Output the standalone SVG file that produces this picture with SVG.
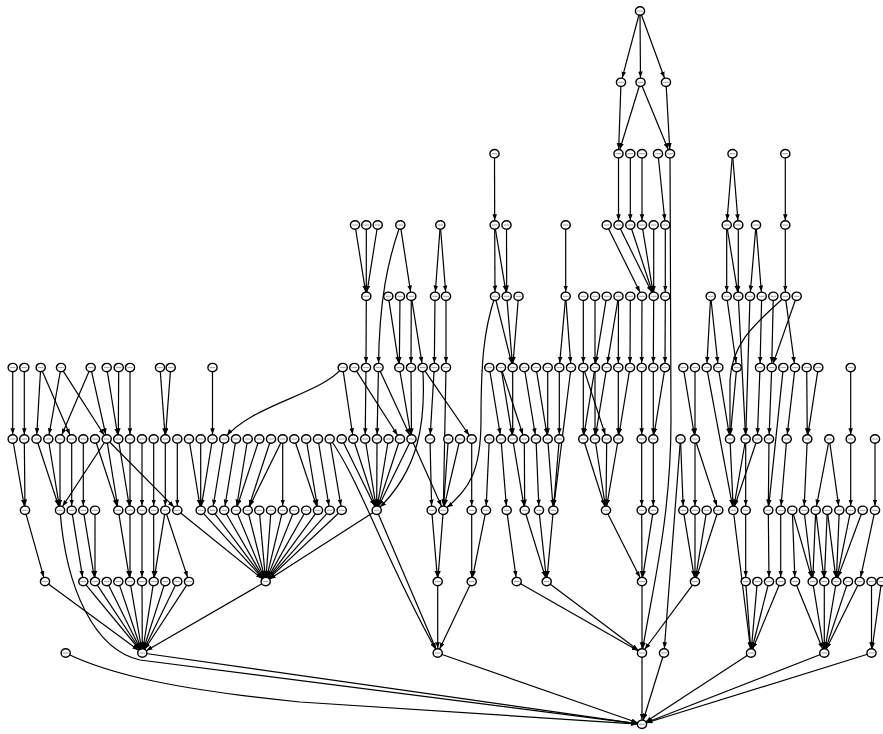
<svg xmlns="http://www.w3.org/2000/svg" xmlns:xlink="http://www.w3.org/1999/xlink" width="883" height="734" viewBox="0 0 883 734">
<style>
.e line,.e path{stroke:#000;stroke-width:1.2;fill:none;marker-end:url(#ah)}
.nd ellipse{fill:#fff;stroke:#000;stroke-width:1.4}
.nd line{stroke:#a0a0a0;stroke-width:1}
</style>
<defs>
<marker id="ah" markerUnits="userSpaceOnUse" markerWidth="12" markerHeight="6" refX="10.8" refY="2.3" orient="auto"><path d="M0,0 L6,2.3 L0,4.6 z" fill="#000"/></marker>
<g id="nd" class="nd"><ellipse rx="4.6" ry="4.2"/><line x1="-2.8" x2="2.8" y1="0" y2="0"/></g>
</defs>
<rect width="883" height="734" fill="#fff"/>
<g id="edges" class="e">
<line x1="640" y1="11" x2="621" y2="82.3"/><line x1="640" y1="11" x2="640.5" y2="82.3"/><line x1="640" y1="11" x2="666" y2="82.3"/>
<line x1="621" y1="82.3" x2="618.5" y2="153.7"/><line x1="640.5" y1="82.3" x2="618.5" y2="153.7"/><line x1="640.5" y1="82.3" x2="670" y2="153.7"/><line x1="666" y1="82.3" x2="670" y2="153.7"/>
<line x1="494.5" y1="153.7" x2="494.7" y2="225"/><line x1="618.5" y1="153.7" x2="618.5" y2="225"/><line x1="630.3" y1="153.7" x2="630.3" y2="225"/><line x1="642" y1="153.7" x2="642" y2="225"/><line x1="658" y1="153.7" x2="665.3" y2="225"/><line x1="732.5" y1="153.7" x2="726.7" y2="225"/><line x1="732.5" y1="153.7" x2="738.3" y2="225"/><line x1="785.3" y1="153.7" x2="785.3" y2="225"/>
<line x1="355" y1="225" x2="366.3" y2="296.3"/><line x1="366.3" y1="225" x2="366.3" y2="296.3"/><line x1="377.7" y1="225" x2="366.3" y2="296.3"/><line x1="400.3" y1="225" x2="411.3" y2="296.3"/><line x1="440.3" y1="225" x2="435" y2="296.3"/><line x1="440.3" y1="225" x2="446" y2="296.3"/><line x1="494.7" y1="225" x2="495" y2="296.3"/><line x1="494.7" y1="225" x2="506.7" y2="296.3"/><line x1="506.5" y1="225" x2="506.7" y2="296.3"/><line x1="565.7" y1="225" x2="565.7" y2="296.3"/><line x1="606.7" y1="225" x2="642" y2="296.3"/><line x1="618.5" y1="225" x2="653.7" y2="296.3"/><line x1="630.3" y1="225" x2="653.7" y2="296.3"/><line x1="642" y1="225" x2="653.7" y2="296.3"/><line x1="653.7" y1="225" x2="653.7" y2="296.3"/><line x1="665.3" y1="225" x2="665.3" y2="296.3"/><line x1="726.7" y1="225" x2="726.7" y2="296.3"/><line x1="726.7" y1="225" x2="738.3" y2="296.3"/><line x1="738.3" y1="225" x2="738.3" y2="296.3"/><line x1="756" y1="225" x2="750" y2="296.3"/><line x1="756" y1="225" x2="761.7" y2="296.3"/><line x1="785.3" y1="225" x2="785.3" y2="296.3"/>
<line x1="366.3" y1="296.3" x2="366" y2="367.6"/><line x1="388.3" y1="296.3" x2="399.3" y2="367.6"/><line x1="400" y1="296.3" x2="399.3" y2="367.6"/><line x1="411.3" y1="296.3" x2="411" y2="367.6"/><line x1="411.3" y1="296.3" x2="422.7" y2="367.6"/><line x1="435" y1="296.3" x2="434.3" y2="367.6"/><line x1="446" y1="296.3" x2="446" y2="367.6"/><line x1="495" y1="296.3" x2="512.7" y2="367.6"/><line x1="506.7" y1="296.3" x2="512.7" y2="367.6"/><line x1="518.5" y1="296.3" x2="512.7" y2="367.6"/><line x1="565.7" y1="296.3" x2="559.3" y2="367.6"/><line x1="565.7" y1="296.3" x2="571" y2="367.6"/><line x1="583.3" y1="296.3" x2="583.3" y2="367.6"/><line x1="595" y1="296.3" x2="595" y2="367.6"/><line x1="606.7" y1="296.3" x2="595" y2="367.6"/><line x1="618.5" y1="296.3" x2="606.7" y2="367.6"/><line x1="618.5" y1="296.3" x2="618.3" y2="367.6"/><line x1="630.3" y1="296.3" x2="630" y2="367.6"/><line x1="642" y1="296.3" x2="641.7" y2="367.6"/><line x1="653.7" y1="296.3" x2="653.3" y2="367.6"/><line x1="665.3" y1="296.3" x2="665" y2="367.6"/><line x1="710.7" y1="296.3" x2="706.7" y2="367.6"/><line x1="710.7" y1="296.3" x2="718.3" y2="367.6"/><line x1="726.7" y1="296.3" x2="736.7" y2="367.6"/><line x1="761.7" y1="296.3" x2="760" y2="367.6"/><line x1="773.3" y1="296.3" x2="771.7" y2="367.6"/><line x1="785.3" y1="296.3" x2="795" y2="367.6"/><line x1="796.7" y1="296.3" x2="771.7" y2="367.6"/>
<line x1="12.7" y1="367.6" x2="12.7" y2="439"/><line x1="24.3" y1="367.6" x2="24.3" y2="439"/><line x1="40.7" y1="367.6" x2="36.5" y2="439"/><line x1="40.7" y1="367.6" x2="71.7" y2="439"/><line x1="61" y1="367.6" x2="48.3" y2="439"/><line x1="61" y1="367.6" x2="106.7" y2="439"/><line x1="90.7" y1="367.6" x2="60" y2="439"/><line x1="90.7" y1="367.6" x2="106.7" y2="439"/><line x1="106.7" y1="367.6" x2="118.3" y2="439"/><line x1="118.7" y1="367.6" x2="118.3" y2="439"/><line x1="130" y1="367.6" x2="130" y2="439"/><line x1="160" y1="367.6" x2="165.3" y2="439"/><line x1="170.7" y1="367.6" x2="165.3" y2="439"/><line x1="212.5" y1="367.6" x2="212.5" y2="439"/><line x1="342.7" y1="367.6" x2="353.3" y2="439"/><line x1="354.3" y1="367.6" x2="400" y2="439"/><line x1="366" y1="367.6" x2="365.2" y2="439"/><line x1="378.5" y1="367.6" x2="377" y2="439"/><line x1="378.5" y1="367.6" x2="411.5" y2="439"/><line x1="399.3" y1="367.6" x2="411.5" y2="439"/><line x1="411" y1="367.6" x2="411.5" y2="439"/><line x1="422.7" y1="367.6" x2="471.7" y2="439"/><line x1="434.3" y1="367.6" x2="430" y2="439"/><line x1="489.3" y1="367.6" x2="501" y2="439"/><line x1="501" y1="367.6" x2="512.7" y2="439"/><line x1="501" y1="367.6" x2="524.3" y2="439"/><line x1="512.7" y1="367.6" x2="512.7" y2="439"/><line x1="524.3" y1="367.6" x2="536" y2="439"/><line x1="536" y1="367.6" x2="547.7" y2="439"/><line x1="547.7" y1="367.6" x2="547.7" y2="439"/><line x1="559.3" y1="367.6" x2="559.3" y2="439"/><line x1="583.3" y1="367.6" x2="583.3" y2="439"/><line x1="583.3" y1="367.6" x2="606.7" y2="439"/><line x1="595" y1="367.6" x2="583.3" y2="439"/><line x1="595" y1="367.6" x2="595" y2="439"/><line x1="606.7" y1="367.6" x2="595" y2="439"/><line x1="618.3" y1="367.6" x2="618.3" y2="439"/><line x1="630" y1="367.6" x2="618.3" y2="439"/><line x1="641.7" y1="367.6" x2="641.7" y2="439"/><line x1="653.3" y1="367.6" x2="653.3" y2="439"/><line x1="665" y1="367.6" x2="653.3" y2="439"/><line x1="683.3" y1="367.6" x2="695" y2="439"/><line x1="695" y1="367.6" x2="695" y2="439"/><line x1="718.3" y1="367.6" x2="730" y2="439"/><line x1="736.7" y1="367.6" x2="730" y2="439"/><line x1="760" y1="367.6" x2="757.3" y2="439"/><line x1="771.7" y1="367.6" x2="769" y2="439"/><line x1="795" y1="367.6" x2="786.7" y2="439"/><line x1="806.7" y1="367.6" x2="807.3" y2="439"/><line x1="818.3" y1="367.6" x2="807.3" y2="439"/><line x1="850.7" y1="367.6" x2="850.7" y2="439"/>
<line x1="12.7" y1="439" x2="25" y2="510.3"/><line x1="24.3" y1="439" x2="25" y2="510.3"/><line x1="36.5" y1="439" x2="60" y2="510.3"/><line x1="48.3" y1="439" x2="60" y2="510.3"/><line x1="60" y1="439" x2="60" y2="510.3"/><line x1="106.7" y1="439" x2="60" y2="510.3"/><line x1="71.7" y1="439" x2="71.7" y2="510.3"/><line x1="83.3" y1="439" x2="83.3" y2="510.3"/><line x1="95" y1="439" x2="118.3" y2="510.3"/><line x1="106.7" y1="439" x2="118.3" y2="510.3"/><line x1="106.7" y1="439" x2="177.3" y2="510.3"/><line x1="118.3" y1="439" x2="130" y2="510.3"/><line x1="130" y1="439" x2="130" y2="510.3"/><line x1="142" y1="439" x2="142" y2="510.3"/><line x1="153.7" y1="439" x2="153.7" y2="510.3"/><line x1="165.3" y1="439" x2="165.3" y2="510.3"/><line x1="177.3" y1="439" x2="177.3" y2="510.3"/><line x1="189" y1="439" x2="200.7" y2="510.3"/><line x1="200.7" y1="439" x2="200.7" y2="510.3"/><line x1="212.5" y1="439" x2="200.7" y2="510.3"/><line x1="224.2" y1="439" x2="212.5" y2="510.3"/><line x1="236" y1="439" x2="224.2" y2="510.3"/><line x1="247.7" y1="439" x2="236" y2="510.3"/><line x1="259.3" y1="439" x2="236" y2="510.3"/><line x1="271" y1="439" x2="247.7" y2="510.3"/><line x1="282.7" y1="439" x2="247.7" y2="510.3"/><line x1="282.7" y1="439" x2="282.7" y2="510.3"/><line x1="294.3" y1="439" x2="318" y2="510.3"/><line x1="306.2" y1="439" x2="318" y2="510.3"/><line x1="318" y1="439" x2="329.7" y2="510.3"/><line x1="329.7" y1="439" x2="341.7" y2="510.3"/><line x1="341.7" y1="439" x2="376.7" y2="510.3"/><line x1="353.3" y1="439" x2="376.7" y2="510.3"/><line x1="365.2" y1="439" x2="376.7" y2="510.3"/><line x1="377" y1="439" x2="376.7" y2="510.3"/><line x1="388.5" y1="439" x2="376.7" y2="510.3"/><line x1="400" y1="439" x2="376.7" y2="510.3"/><line x1="411.5" y1="439" x2="376.7" y2="510.3"/><line x1="411.5" y1="439" x2="443.3" y2="510.3"/><line x1="430" y1="439" x2="431.7" y2="510.3"/><line x1="448.3" y1="439" x2="443.3" y2="510.3"/><line x1="460" y1="439" x2="443.3" y2="510.3"/><line x1="471.7" y1="439" x2="471.7" y2="510.3"/><line x1="489.3" y1="439" x2="486" y2="510.3"/><line x1="501" y1="439" x2="506.7" y2="510.3"/><line x1="512.7" y1="439" x2="524.7" y2="510.3"/><line x1="524.3" y1="439" x2="524.7" y2="510.3"/><line x1="536" y1="439" x2="539" y2="510.3"/><line x1="547.7" y1="439" x2="553.3" y2="510.3"/><line x1="559.3" y1="439" x2="553.3" y2="510.3"/><line x1="583.3" y1="439" x2="606" y2="510.3"/><line x1="595" y1="439" x2="606" y2="510.3"/><line x1="606.7" y1="439" x2="606" y2="510.3"/><line x1="618.3" y1="439" x2="606" y2="510.3"/><line x1="641.7" y1="439" x2="641.7" y2="510.3"/><line x1="653.3" y1="439" x2="653.3" y2="510.3"/><line x1="680.5" y1="439" x2="683.3" y2="510.3"/><line x1="695" y1="439" x2="695" y2="510.3"/><line x1="695" y1="439" x2="718.3" y2="510.3"/><line x1="730" y1="439" x2="733.3" y2="510.3"/><line x1="745.7" y1="439" x2="733.3" y2="510.3"/><line x1="757.3" y1="439" x2="733.3" y2="510.3"/><line x1="745.7" y1="439" x2="745.7" y2="510.3"/><line x1="769" y1="439" x2="768.3" y2="510.3"/><line x1="786.7" y1="439" x2="780.7" y2="510.3"/><line x1="807.3" y1="439" x2="804" y2="510.3"/><line x1="829.3" y1="439" x2="815.7" y2="510.3"/><line x1="829.3" y1="439" x2="839.3" y2="510.3"/><line x1="850.7" y1="439" x2="850.7" y2="510.3"/><line x1="875" y1="439" x2="875" y2="510.3"/>
<line x1="25" y1="510.3" x2="45" y2="581.6"/><line x1="71.7" y1="510.3" x2="83.3" y2="581.6"/><line x1="83.3" y1="510.3" x2="95" y2="581.6"/><line x1="95" y1="510.3" x2="95" y2="581.6"/><line x1="118.3" y1="510.3" x2="130" y2="581.6"/><line x1="130" y1="510.3" x2="130" y2="581.6"/><line x1="142" y1="510.3" x2="142" y2="581.6"/><line x1="153.7" y1="510.3" x2="153.7" y2="581.6"/><line x1="165.3" y1="510.3" x2="153.7" y2="581.6"/><line x1="165.3" y1="510.3" x2="189" y2="581.6"/><line x1="177.3" y1="510.3" x2="265.7" y2="581.6"/><line x1="200.7" y1="510.3" x2="265.7" y2="581.6"/><line x1="212.5" y1="510.3" x2="265.7" y2="581.6"/><line x1="224.2" y1="510.3" x2="265.7" y2="581.6"/><line x1="236" y1="510.3" x2="265.7" y2="581.6"/><line x1="247.7" y1="510.3" x2="265.7" y2="581.6"/><line x1="259.3" y1="510.3" x2="265.7" y2="581.6"/><line x1="271" y1="510.3" x2="265.7" y2="581.6"/><line x1="282.7" y1="510.3" x2="265.7" y2="581.6"/><line x1="294.3" y1="510.3" x2="265.7" y2="581.6"/><line x1="306.2" y1="510.3" x2="265.7" y2="581.6"/><line x1="318" y1="510.3" x2="265.7" y2="581.6"/><line x1="329.7" y1="510.3" x2="265.7" y2="581.6"/><line x1="341.7" y1="510.3" x2="265.7" y2="581.6"/><line x1="376.7" y1="510.3" x2="265.7" y2="581.6"/><line x1="431.7" y1="510.3" x2="437.7" y2="581.6"/><line x1="443.3" y1="510.3" x2="437.7" y2="581.6"/><line x1="471.7" y1="510.3" x2="471.7" y2="581.6"/><line x1="486" y1="510.3" x2="471.7" y2="581.6"/><line x1="506.7" y1="510.3" x2="516.7" y2="581.6"/><line x1="524.7" y1="510.3" x2="546.7" y2="581.6"/><line x1="539" y1="510.3" x2="546.7" y2="581.6"/><line x1="553.3" y1="510.3" x2="546.7" y2="581.6"/><line x1="606" y1="510.3" x2="642" y2="581.6"/><line x1="641.7" y1="510.3" x2="642" y2="581.6"/><line x1="653.3" y1="510.3" x2="642" y2="581.6"/><line x1="683.3" y1="510.3" x2="695" y2="581.6"/><line x1="695" y1="510.3" x2="695" y2="581.6"/><line x1="706.7" y1="510.3" x2="695" y2="581.6"/><line x1="718.3" y1="510.3" x2="695" y2="581.6"/><line x1="745.7" y1="510.3" x2="745.7" y2="581.6"/><line x1="768.3" y1="510.3" x2="769" y2="581.6"/><line x1="780.7" y1="510.3" x2="780.7" y2="581.6"/><line x1="792.3" y1="510.3" x2="795" y2="581.6"/><line x1="792.3" y1="510.3" x2="812.7" y2="581.6"/><line x1="804" y1="510.3" x2="812.7" y2="581.6"/><line x1="815.7" y1="510.3" x2="812.7" y2="581.6"/><line x1="815.7" y1="510.3" x2="824.3" y2="581.6"/><line x1="827.3" y1="510.3" x2="824.3" y2="581.6"/><line x1="827.3" y1="510.3" x2="836.3" y2="581.6"/><line x1="839.3" y1="510.3" x2="836.3" y2="581.6"/><line x1="850.7" y1="510.3" x2="836.3" y2="581.6"/><line x1="862.7" y1="510.3" x2="836.3" y2="581.6"/><line x1="875" y1="510.3" x2="859.7" y2="581.6"/>
<line x1="45" y1="581.6" x2="142.3" y2="653"/><line x1="83.3" y1="581.6" x2="142.3" y2="653"/><line x1="95" y1="581.6" x2="142.3" y2="653"/><line x1="106.7" y1="581.6" x2="142.3" y2="653"/><line x1="118.3" y1="581.6" x2="142.3" y2="653"/><line x1="130" y1="581.6" x2="142.3" y2="653"/><line x1="142" y1="581.6" x2="142.3" y2="653"/><line x1="153.7" y1="581.6" x2="142.3" y2="653"/><line x1="165.3" y1="581.6" x2="142.3" y2="653"/><line x1="177.3" y1="581.6" x2="142.3" y2="653"/><line x1="189" y1="581.6" x2="142.3" y2="653"/><line x1="265.7" y1="581.6" x2="142.3" y2="653"/><line x1="437.7" y1="581.6" x2="437.7" y2="653"/><line x1="471.7" y1="581.6" x2="437.7" y2="653"/><line x1="516.7" y1="581.6" x2="642" y2="653"/><line x1="546.7" y1="581.6" x2="642" y2="653"/><line x1="642" y1="581.6" x2="642" y2="653"/><line x1="695" y1="581.6" x2="642" y2="653"/><line x1="745.7" y1="581.6" x2="751" y2="653"/><line x1="757.3" y1="581.6" x2="751" y2="653"/><line x1="769" y1="581.6" x2="751" y2="653"/><line x1="780.7" y1="581.6" x2="751" y2="653"/><line x1="795" y1="581.6" x2="824.3" y2="653"/><line x1="812.7" y1="581.6" x2="824.3" y2="653"/><line x1="824.3" y1="581.6" x2="824.3" y2="653"/><line x1="836.3" y1="581.6" x2="824.3" y2="653"/><line x1="848" y1="581.6" x2="824.3" y2="653"/><line x1="859.7" y1="581.6" x2="824.3" y2="653"/><line x1="871.5" y1="581.6" x2="871.5" y2="653"/><line x1="881.5" y1="581.6" x2="871.5" y2="653"/>
<line x1="142.3" y1="653" x2="642" y2="724.3"/><line x1="437.7" y1="653" x2="642" y2="724.3"/><line x1="642" y1="653" x2="642" y2="724.3"/><line x1="664" y1="653" x2="642" y2="724.3"/><line x1="751" y1="653" x2="642" y2="724.3"/><line x1="824.3" y1="653" x2="642" y2="724.3"/><line x1="871.5" y1="653" x2="642" y2="724.3"/>
<path d="M670,153.7 L671,420 C671,520 652,590 642,653"/>
<path d="M400.3,225 C388,260 379,300 378.5,367.6"/>
<path d="M495,296.3 C484,330 481,360 481,420 C481,470 470,490 443.3,510.3"/>
<line x1="738.3" y1="296.3" x2="745.7" y2="439"/><line x1="750" y1="296.3" x2="745.7" y2="439"/>
<path d="M785.3,296.3 C760,320 732,340 730,380 L730,439"/>
<path d="M342.7,367.6 C320,395 250,405 224.2,439"/>
<path d="M422.7,367.6 C426,420 420,470 376.7,510.3"/>
<line x1="446" y1="367.6" x2="443.3" y2="510.3"/><line x1="571" y1="367.6" x2="553.3" y2="510.3"/><line x1="706.7" y1="367.6" x2="733.3" y2="510.3"/><line x1="783.3" y1="367.6" x2="768.3" y2="510.3"/>
<line x1="680.5" y1="439" x2="664" y2="653"/>
<path d="M330,439 C360,480 385,560 437.7,653"/>
<line x1="376.7" y1="510.3" x2="437.7" y2="653"/>
<line x1="733.3" y1="510.3" x2="751" y2="653"/>
<path d="M60,510.3 C66,590 95,650 140,660 L642,724.3"/>
<path d="M65.7,653 C110,675 180,690 300,702 L642,724.3"/>
</g>
<g id="nodes">
<g id="n0_640"><use href="#nd" x="640" y="11"/></g>
<g id="n1_621"><use href="#nd" x="621" y="82.3"/></g><g id="n1_640"><use href="#nd" x="640.5" y="82.3"/></g><g id="n1_666"><use href="#nd" x="666" y="82.3"/></g>
<g id="n2_494"><use href="#nd" x="494.5" y="153.7"/></g><g id="n2_618"><use href="#nd" x="618.5" y="153.7"/></g><g id="n2_630"><use href="#nd" x="630.3" y="153.7"/></g><g id="n2_642"><use href="#nd" x="642" y="153.7"/></g><g id="n2_658"><use href="#nd" x="658" y="153.7"/></g><g id="n2_670"><use href="#nd" x="670" y="153.7"/></g><g id="n2_732"><use href="#nd" x="732.5" y="153.7"/></g><g id="n2_785"><use href="#nd" x="785.3" y="153.7"/></g>
<g id="n3_355"><use href="#nd" x="355" y="225"/></g><g id="n3_366"><use href="#nd" x="366.3" y="225"/></g><g id="n3_377"><use href="#nd" x="377.7" y="225"/></g><g id="n3_400"><use href="#nd" x="400.3" y="225"/></g><g id="n3_440"><use href="#nd" x="440.3" y="225"/></g><g id="n3_494"><use href="#nd" x="494.7" y="225"/></g><g id="n3_506"><use href="#nd" x="506.5" y="225"/></g><g id="n3_565"><use href="#nd" x="565.7" y="225"/></g><g id="n3_606"><use href="#nd" x="606.7" y="225"/></g><g id="n3_618"><use href="#nd" x="618.5" y="225"/></g><g id="n3_630"><use href="#nd" x="630.3" y="225"/></g><g id="n3_642"><use href="#nd" x="642" y="225"/></g><g id="n3_653"><use href="#nd" x="653.7" y="225"/></g><g id="n3_665"><use href="#nd" x="665.3" y="225"/></g><g id="n3_726"><use href="#nd" x="726.7" y="225"/></g><g id="n3_738"><use href="#nd" x="738.3" y="225"/></g><g id="n3_756"><use href="#nd" x="756" y="225"/></g><g id="n3_785"><use href="#nd" x="785.3" y="225"/></g>
<g id="n4_366"><use href="#nd" x="366.3" y="296.3"/></g><g id="n4_388"><use href="#nd" x="388.3" y="296.3"/></g><g id="n4_400"><use href="#nd" x="400" y="296.3"/></g><g id="n4_411"><use href="#nd" x="411.3" y="296.3"/></g><g id="n4_435"><use href="#nd" x="435" y="296.3"/></g><g id="n4_446"><use href="#nd" x="446" y="296.3"/></g><g id="n4_495"><use href="#nd" x="495" y="296.3"/></g><g id="n4_506"><use href="#nd" x="506.7" y="296.3"/></g><g id="n4_518"><use href="#nd" x="518.5" y="296.3"/></g><g id="n4_565"><use href="#nd" x="565.7" y="296.3"/></g><g id="n4_583"><use href="#nd" x="583.3" y="296.3"/></g><g id="n4_595"><use href="#nd" x="595" y="296.3"/></g><g id="n4_606"><use href="#nd" x="606.7" y="296.3"/></g><g id="n4_618"><use href="#nd" x="618.5" y="296.3"/></g><g id="n4_630"><use href="#nd" x="630.3" y="296.3"/></g><g id="n4_642"><use href="#nd" x="642" y="296.3"/></g><g id="n4_653"><use href="#nd" x="653.7" y="296.3"/></g><g id="n4_665"><use href="#nd" x="665.3" y="296.3"/></g><g id="n4_710"><use href="#nd" x="710.7" y="296.3"/></g><g id="n4_726"><use href="#nd" x="726.7" y="296.3"/></g><g id="n4_738"><use href="#nd" x="738.3" y="296.3"/></g><g id="n4_750"><use href="#nd" x="750" y="296.3"/></g><g id="n4_761"><use href="#nd" x="761.7" y="296.3"/></g><g id="n4_773"><use href="#nd" x="773.3" y="296.3"/></g><g id="n4_785"><use href="#nd" x="785.3" y="296.3"/></g><g id="n4_796"><use href="#nd" x="796.7" y="296.3"/></g>
<g id="n5_12"><use href="#nd" x="12.7" y="367.6"/></g><g id="n5_24"><use href="#nd" x="24.3" y="367.6"/></g><g id="n5_40"><use href="#nd" x="40.7" y="367.6"/></g><g id="n5_61"><use href="#nd" x="61" y="367.6"/></g><g id="n5_90"><use href="#nd" x="90.7" y="367.6"/></g><g id="n5_106"><use href="#nd" x="106.7" y="367.6"/></g><g id="n5_118"><use href="#nd" x="118.7" y="367.6"/></g><g id="n5_130"><use href="#nd" x="130" y="367.6"/></g><g id="n5_160"><use href="#nd" x="160" y="367.6"/></g><g id="n5_170"><use href="#nd" x="170.7" y="367.6"/></g><g id="n5_212"><use href="#nd" x="212.5" y="367.6"/></g><g id="n5_342"><use href="#nd" x="342.7" y="367.6"/></g><g id="n5_354"><use href="#nd" x="354.3" y="367.6"/></g><g id="n5_366"><use href="#nd" x="366" y="367.6"/></g><g id="n5_378"><use href="#nd" x="378.5" y="367.6"/></g><g id="n5_399"><use href="#nd" x="399.3" y="367.6"/></g><g id="n5_411"><use href="#nd" x="411" y="367.6"/></g><g id="n5_422"><use href="#nd" x="422.7" y="367.6"/></g><g id="n5_434"><use href="#nd" x="434.3" y="367.6"/></g><g id="n5_446"><use href="#nd" x="446" y="367.6"/></g><g id="n5_489"><use href="#nd" x="489.3" y="367.6"/></g><g id="n5_501"><use href="#nd" x="501" y="367.6"/></g><g id="n5_512"><use href="#nd" x="512.7" y="367.6"/></g><g id="n5_524"><use href="#nd" x="524.3" y="367.6"/></g><g id="n5_536"><use href="#nd" x="536" y="367.6"/></g><g id="n5_547"><use href="#nd" x="547.7" y="367.6"/></g><g id="n5_559"><use href="#nd" x="559.3" y="367.6"/></g><g id="n5_571"><use href="#nd" x="571" y="367.6"/></g><g id="n5_583"><use href="#nd" x="583.3" y="367.6"/></g><g id="n5_595"><use href="#nd" x="595" y="367.6"/></g><g id="n5_606"><use href="#nd" x="606.7" y="367.6"/></g><g id="n5_618"><use href="#nd" x="618.3" y="367.6"/></g><g id="n5_630"><use href="#nd" x="630" y="367.6"/></g><g id="n5_641"><use href="#nd" x="641.7" y="367.6"/></g><g id="n5_653"><use href="#nd" x="653.3" y="367.6"/></g><g id="n5_665"><use href="#nd" x="665" y="367.6"/></g><g id="n5_683"><use href="#nd" x="683.3" y="367.6"/></g><g id="n5_695"><use href="#nd" x="695" y="367.6"/></g><g id="n5_706"><use href="#nd" x="706.7" y="367.6"/></g><g id="n5_718"><use href="#nd" x="718.3" y="367.6"/></g><g id="n5_736"><use href="#nd" x="736.7" y="367.6"/></g><g id="n5_760"><use href="#nd" x="760" y="367.6"/></g><g id="n5_771"><use href="#nd" x="771.7" y="367.6"/></g><g id="n5_783"><use href="#nd" x="783.3" y="367.6"/></g><g id="n5_795"><use href="#nd" x="795" y="367.6"/></g><g id="n5_806"><use href="#nd" x="806.7" y="367.6"/></g><g id="n5_818"><use href="#nd" x="818.3" y="367.6"/></g><g id="n5_850"><use href="#nd" x="850.7" y="367.6"/></g>
<g id="n6_12"><use href="#nd" x="12.7" y="439"/></g><g id="n6_24"><use href="#nd" x="24.3" y="439"/></g><g id="n6_36"><use href="#nd" x="36.5" y="439"/></g><g id="n6_48"><use href="#nd" x="48.3" y="439"/></g><g id="n6_60"><use href="#nd" x="60" y="439"/></g><g id="n6_71"><use href="#nd" x="71.7" y="439"/></g><g id="n6_83"><use href="#nd" x="83.3" y="439"/></g><g id="n6_95"><use href="#nd" x="95" y="439"/></g><g id="n6_106"><use href="#nd" x="106.7" y="439"/></g><g id="n6_118"><use href="#nd" x="118.3" y="439"/></g><g id="n6_130"><use href="#nd" x="130" y="439"/></g><g id="n6_142"><use href="#nd" x="142" y="439"/></g><g id="n6_153"><use href="#nd" x="153.7" y="439"/></g><g id="n6_165"><use href="#nd" x="165.3" y="439"/></g><g id="n6_177"><use href="#nd" x="177.3" y="439"/></g><g id="n6_189"><use href="#nd" x="189" y="439"/></g><g id="n6_200"><use href="#nd" x="200.7" y="439"/></g><g id="n6_212"><use href="#nd" x="212.5" y="439"/></g><g id="n6_224"><use href="#nd" x="224.2" y="439"/></g><g id="n6_236"><use href="#nd" x="236" y="439"/></g><g id="n6_247"><use href="#nd" x="247.7" y="439"/></g><g id="n6_259"><use href="#nd" x="259.3" y="439"/></g><g id="n6_271"><use href="#nd" x="271" y="439"/></g><g id="n6_282"><use href="#nd" x="282.7" y="439"/></g><g id="n6_294"><use href="#nd" x="294.3" y="439"/></g><g id="n6_306"><use href="#nd" x="306.2" y="439"/></g><g id="n6_318"><use href="#nd" x="318" y="439"/></g><g id="n6_329"><use href="#nd" x="329.7" y="439"/></g><g id="n6_341"><use href="#nd" x="341.7" y="439"/></g><g id="n6_353"><use href="#nd" x="353.3" y="439"/></g><g id="n6_365"><use href="#nd" x="365.2" y="439"/></g><g id="n6_377"><use href="#nd" x="377" y="439"/></g><g id="n6_388"><use href="#nd" x="388.5" y="439"/></g><g id="n6_400"><use href="#nd" x="400" y="439"/></g><g id="n6_411"><use href="#nd" x="411.5" y="439"/></g><g id="n6_430"><use href="#nd" x="430" y="439"/></g><g id="n6_448"><use href="#nd" x="448.3" y="439"/></g><g id="n6_460"><use href="#nd" x="460" y="439"/></g><g id="n6_471"><use href="#nd" x="471.7" y="439"/></g><g id="n6_489"><use href="#nd" x="489.3" y="439"/></g><g id="n6_501"><use href="#nd" x="501" y="439"/></g><g id="n6_512"><use href="#nd" x="512.7" y="439"/></g><g id="n6_524"><use href="#nd" x="524.3" y="439"/></g><g id="n6_536"><use href="#nd" x="536" y="439"/></g><g id="n6_547"><use href="#nd" x="547.7" y="439"/></g><g id="n6_559"><use href="#nd" x="559.3" y="439"/></g><g id="n6_583"><use href="#nd" x="583.3" y="439"/></g><g id="n6_595"><use href="#nd" x="595" y="439"/></g><g id="n6_606"><use href="#nd" x="606.7" y="439"/></g><g id="n6_618"><use href="#nd" x="618.3" y="439"/></g><g id="n6_641"><use href="#nd" x="641.7" y="439"/></g><g id="n6_653"><use href="#nd" x="653.3" y="439"/></g><g id="n6_680"><use href="#nd" x="680.5" y="439"/></g><g id="n6_695"><use href="#nd" x="695" y="439"/></g><g id="n6_730"><use href="#nd" x="730" y="439"/></g><g id="n6_745"><use href="#nd" x="745.7" y="439"/></g><g id="n6_757"><use href="#nd" x="757.3" y="439"/></g><g id="n6_769"><use href="#nd" x="769" y="439"/></g><g id="n6_786"><use href="#nd" x="786.7" y="439"/></g><g id="n6_807"><use href="#nd" x="807.3" y="439"/></g><g id="n6_829"><use href="#nd" x="829.3" y="439"/></g><g id="n6_850"><use href="#nd" x="850.7" y="439"/></g><g id="n6_875"><use href="#nd" x="875" y="439"/></g>
<g id="n7_25"><use href="#nd" x="25" y="510.3"/></g><g id="n7_60"><use href="#nd" x="60" y="510.3"/></g><g id="n7_71"><use href="#nd" x="71.7" y="510.3"/></g><g id="n7_83"><use href="#nd" x="83.3" y="510.3"/></g><g id="n7_95"><use href="#nd" x="95" y="510.3"/></g><g id="n7_118"><use href="#nd" x="118.3" y="510.3"/></g><g id="n7_130"><use href="#nd" x="130" y="510.3"/></g><g id="n7_142"><use href="#nd" x="142" y="510.3"/></g><g id="n7_153"><use href="#nd" x="153.7" y="510.3"/></g><g id="n7_165"><use href="#nd" x="165.3" y="510.3"/></g><g id="n7_177"><use href="#nd" x="177.3" y="510.3"/></g><g id="n7_200"><use href="#nd" x="200.7" y="510.3"/></g><g id="n7_212"><use href="#nd" x="212.5" y="510.3"/></g><g id="n7_224"><use href="#nd" x="224.2" y="510.3"/></g><g id="n7_236"><use href="#nd" x="236" y="510.3"/></g><g id="n7_247"><use href="#nd" x="247.7" y="510.3"/></g><g id="n7_259"><use href="#nd" x="259.3" y="510.3"/></g><g id="n7_271"><use href="#nd" x="271" y="510.3"/></g><g id="n7_282"><use href="#nd" x="282.7" y="510.3"/></g><g id="n7_294"><use href="#nd" x="294.3" y="510.3"/></g><g id="n7_306"><use href="#nd" x="306.2" y="510.3"/></g><g id="n7_318"><use href="#nd" x="318" y="510.3"/></g><g id="n7_329"><use href="#nd" x="329.7" y="510.3"/></g><g id="n7_341"><use href="#nd" x="341.7" y="510.3"/></g><g id="n7_376"><use href="#nd" x="376.7" y="510.3"/></g><g id="n7_431"><use href="#nd" x="431.7" y="510.3"/></g><g id="n7_443"><use href="#nd" x="443.3" y="510.3"/></g><g id="n7_471"><use href="#nd" x="471.7" y="510.3"/></g><g id="n7_486"><use href="#nd" x="486" y="510.3"/></g><g id="n7_506"><use href="#nd" x="506.7" y="510.3"/></g><g id="n7_524"><use href="#nd" x="524.7" y="510.3"/></g><g id="n7_539"><use href="#nd" x="539" y="510.3"/></g><g id="n7_553"><use href="#nd" x="553.3" y="510.3"/></g><g id="n7_606"><use href="#nd" x="606" y="510.3"/></g><g id="n7_641"><use href="#nd" x="641.7" y="510.3"/></g><g id="n7_653"><use href="#nd" x="653.3" y="510.3"/></g><g id="n7_683"><use href="#nd" x="683.3" y="510.3"/></g><g id="n7_695"><use href="#nd" x="695" y="510.3"/></g><g id="n7_706"><use href="#nd" x="706.7" y="510.3"/></g><g id="n7_718"><use href="#nd" x="718.3" y="510.3"/></g><g id="n7_733"><use href="#nd" x="733.3" y="510.3"/></g><g id="n7_745"><use href="#nd" x="745.7" y="510.3"/></g><g id="n7_768"><use href="#nd" x="768.3" y="510.3"/></g><g id="n7_780"><use href="#nd" x="780.7" y="510.3"/></g><g id="n7_792"><use href="#nd" x="792.3" y="510.3"/></g><g id="n7_804"><use href="#nd" x="804" y="510.3"/></g><g id="n7_815"><use href="#nd" x="815.7" y="510.3"/></g><g id="n7_827"><use href="#nd" x="827.3" y="510.3"/></g><g id="n7_839"><use href="#nd" x="839.3" y="510.3"/></g><g id="n7_850"><use href="#nd" x="850.7" y="510.3"/></g><g id="n7_862"><use href="#nd" x="862.7" y="510.3"/></g><g id="n7_875"><use href="#nd" x="875" y="510.3"/></g>
<g id="n8_45"><use href="#nd" x="45" y="581.6"/></g><g id="n8_83"><use href="#nd" x="83.3" y="581.6"/></g><g id="n8_95"><use href="#nd" x="95" y="581.6"/></g><g id="n8_106"><use href="#nd" x="106.7" y="581.6"/></g><g id="n8_118"><use href="#nd" x="118.3" y="581.6"/></g><g id="n8_130"><use href="#nd" x="130" y="581.6"/></g><g id="n8_142"><use href="#nd" x="142" y="581.6"/></g><g id="n8_153"><use href="#nd" x="153.7" y="581.6"/></g><g id="n8_165"><use href="#nd" x="165.3" y="581.6"/></g><g id="n8_177"><use href="#nd" x="177.3" y="581.6"/></g><g id="n8_189"><use href="#nd" x="189" y="581.6"/></g><g id="n8_265"><use href="#nd" x="265.7" y="581.6"/></g><g id="n8_437"><use href="#nd" x="437.7" y="581.6"/></g><g id="n8_471"><use href="#nd" x="471.7" y="581.6"/></g><g id="n8_516"><use href="#nd" x="516.7" y="581.6"/></g><g id="n8_546"><use href="#nd" x="546.7" y="581.6"/></g><g id="n8_642"><use href="#nd" x="642" y="581.6"/></g><g id="n8_695"><use href="#nd" x="695" y="581.6"/></g><g id="n8_745"><use href="#nd" x="745.7" y="581.6"/></g><g id="n8_757"><use href="#nd" x="757.3" y="581.6"/></g><g id="n8_769"><use href="#nd" x="769" y="581.6"/></g><g id="n8_780"><use href="#nd" x="780.7" y="581.6"/></g><g id="n8_795"><use href="#nd" x="795" y="581.6"/></g><g id="n8_812"><use href="#nd" x="812.7" y="581.6"/></g><g id="n8_824"><use href="#nd" x="824.3" y="581.6"/></g><g id="n8_836"><use href="#nd" x="836.3" y="581.6"/></g><g id="n8_848"><use href="#nd" x="848" y="581.6"/></g><g id="n8_859"><use href="#nd" x="859.7" y="581.6"/></g><g id="n8_871"><use href="#nd" x="871.5" y="581.6"/></g><g id="n8_881"><use href="#nd" x="881.5" y="581.6"/></g>
<g id="n9_65"><use href="#nd" x="65.7" y="653"/></g><g id="n9_142"><use href="#nd" x="142.3" y="653"/></g><g id="n9_437"><use href="#nd" x="437.7" y="653"/></g><g id="n9_642"><use href="#nd" x="642" y="653"/></g><g id="n9_664"><use href="#nd" x="664" y="653"/></g><g id="n9_751"><use href="#nd" x="751" y="653"/></g><g id="n9_824"><use href="#nd" x="824.3" y="653"/></g><g id="n9_871"><use href="#nd" x="871.5" y="653"/></g>
<g id="n10_642"><use href="#nd" x="642" y="724.3"/></g>
</g>
</svg>
